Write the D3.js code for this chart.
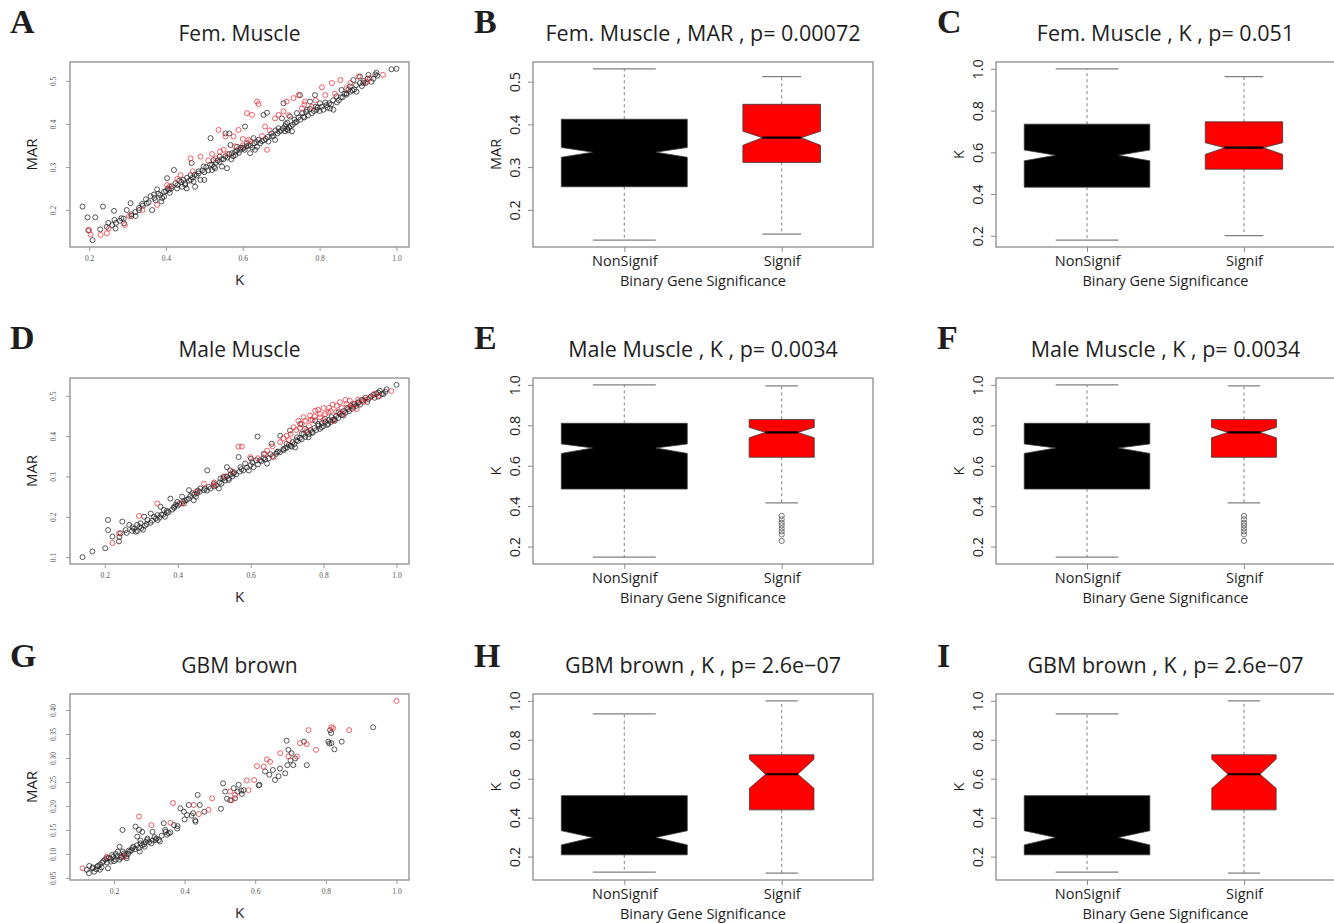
<!DOCTYPE html>
<html>
<head>
<meta charset="utf-8">
<script src="https://cdn.jsdelivr.net/npm/d3@7"></script>
<style>
  body { margin: 0; background: #fff; }
  svg { display: block; }
</style>
</head>
<body>
<div id="chart"></div>
<script>
// ---- scatter data: [K, MAR] ----
const femBlack = [[0.183,0.208],[0.196,0.183],[0.216,0.183],[0.198,0.153],[0.209,0.130],[0.236,0.208],[0.229,0.155],[0.246,0.161],[0.265,0.198],[0.266,0.177],[0.269,0.157],[0.284,0.181],[0.291,0.169],[0.298,0.200],[0.308,0.216],[0.310,0.186],[0.321,0.186],[0.330,0.200],[0.338,0.214],[0.348,0.225],[0.364,0.200],[0.369,0.236],[0.373,0.223],[0.377,0.248],[0.388,0.220],[0.395,0.231],[0.403,0.274],[0.408,0.247],[0.414,0.250],[0.421,0.293],[0.429,0.250],[0.442,0.254],[0.450,0.262],[0.454,0.250],[0.464,0.281],[0.467,0.309],[0.472,0.266],[0.476,0.254],[0.485,0.285],[0.490,0.270],[0.498,0.301],[0.500,0.270],[0.516,0.367],[0.520,0.293],[0.524,0.316],[0.528,0.297],[0.540,0.324],[0.546,0.301],[0.555,0.378],[0.559,0.297],[0.565,0.378],[0.568,0.351],[0.572,0.332],[0.581,0.328],[0.585,0.347],[0.594,0.340],[0.602,0.343],[0.606,0.394],[0.611,0.355],[0.619,0.332],[0.628,0.367],[0.632,0.340],[0.637,0.347],[0.641,0.363],[0.654,0.421],[0.663,0.426],[0.667,0.359],[0.676,0.371],[0.684,0.363],[0.693,0.390],[0.702,0.413],[0.706,0.448],[0.710,0.383],[0.716,0.403],[0.723,0.417],[0.728,0.383],[0.736,0.403],[0.741,0.425],[0.749,0.467],[0.758,0.417],[0.767,0.433],[0.775,0.452],[0.788,0.467],[0.792,0.433],[0.801,0.448],[0.810,0.433],[0.818,0.444],[0.827,0.436],[0.836,0.433],[0.844,0.464],[0.857,0.479],[0.870,0.471],[0.879,0.487],[0.888,0.502],[0.896,0.475],[0.905,0.510],[0.914,0.495],[0.927,0.514],[0.935,0.498],[0.948,0.519],[0.987,0.527],[1.000,0.528],
  [0.360,0.232],[0.380,0.238],[0.400,0.244],[0.410,0.240],[0.430,0.258],[0.440,0.265],[0.460,0.268],[0.470,0.276],[0.480,0.280],[0.500,0.288],[0.510,0.292],[0.520,0.305],[0.530,0.310],[0.540,0.312],[0.550,0.318],[0.560,0.322],[0.570,0.318],[0.580,0.335],[0.590,0.333],[0.600,0.345],[0.610,0.348],[0.620,0.350],[0.630,0.355],[0.650,0.360],[0.660,0.365],[0.680,0.372],[0.690,0.378],[0.700,0.385],[0.710,0.395],[0.715,0.388],[0.720,0.392],[0.730,0.398],[0.740,0.405],[0.750,0.410],[0.760,0.415],[0.770,0.420],[0.780,0.425],[0.790,0.440],[0.800,0.430],[0.820,0.438],[0.830,0.445],[0.850,0.455],[0.860,0.462],[0.870,0.468],[0.880,0.475],[0.890,0.480],[0.910,0.488],[0.920,0.495],[0.940,0.505],[0.950,0.512],[0.450,0.258],[0.390,0.228],[0.350,0.215],[0.320,0.195],[0.280,0.175],[0.260,0.165],[0.250,0.170],
  [0.270,0.170],[0.290,0.180],[0.310,0.190],[0.330,0.205],[0.340,0.210],[0.355,0.218],[0.370,0.228],[0.385,0.235],[0.395,0.242],[0.405,0.250],[0.415,0.255],[0.425,0.262],[0.435,0.268],[0.445,0.270],[0.455,0.275],[0.465,0.270],[0.475,0.282],[0.485,0.290],[0.495,0.292],[0.505,0.300],[0.515,0.305],[0.525,0.300],[0.535,0.315],[0.545,0.318],[0.555,0.325],[0.565,0.330],[0.575,0.325],[0.585,0.338],[0.595,0.345],[0.605,0.340],[0.615,0.350],[0.625,0.345],[0.635,0.358],[0.645,0.355],[0.655,0.362],[0.665,0.370],[0.675,0.378],[0.685,0.385],[0.695,0.382],[0.705,0.390],[0.712,0.400],[0.718,0.385],[0.725,0.395],[0.735,0.410],[0.745,0.415],[0.755,0.425],[0.765,0.428],[0.775,0.435],[0.785,0.430],[0.795,0.438],[0.805,0.440],[0.815,0.450],[0.825,0.448],[0.835,0.455],[0.845,0.450],[0.855,0.462],[0.865,0.470],[0.875,0.480],[0.885,0.478],[0.895,0.490],[0.905,0.495],[0.915,0.500],[0.925,0.505],[0.945,0.515]];
const femRed = [[0.200,0.153],[0.204,0.143],[0.230,0.142],[0.246,0.146],[0.251,0.157],[0.293,0.165],[0.304,0.186],[0.339,0.200],[0.377,0.212],[0.403,0.258],[0.438,0.281],[0.464,0.320],[0.490,0.324],[0.537,0.386],[0.541,0.336],[0.555,0.371],[0.576,0.371],[0.589,0.386],[0.615,0.363],[0.611,0.425],[0.624,0.421],[0.637,0.452],[0.641,0.446],[0.658,0.394],[0.684,0.413],[0.693,0.421],[0.714,0.452],[0.732,0.460],[0.745,0.467],[0.754,0.436],[0.762,0.452],[0.780,0.440],[0.806,0.485],[0.815,0.467],[0.832,0.495],[0.854,0.502],[0.870,0.483],[0.901,0.510],[0.922,0.498],[0.965,0.514],[0.931,0.506],[0.663,0.340],[0.706,0.429],[0.410,0.255],[0.530,0.320],[0.560,0.330],[0.600,0.350],[0.650,0.372],
  [0.430,0.272],[0.470,0.290],[0.510,0.315],[0.550,0.340],[0.580,0.348],[0.620,0.360],[0.670,0.385],[0.720,0.420],[0.760,0.445],[0.790,0.455],[0.840,0.470],[0.880,0.495],[0.520,0.330],[0.600,0.365]];

const maleBlack = [[0.139,0.100],[0.166,0.114],[0.201,0.122],[0.209,0.192],[0.209,0.167],[0.221,0.151],[0.239,0.139],[0.243,0.159],[0.248,0.188],[0.257,0.167],[0.267,0.180],[0.276,0.174],[0.285,0.163],[0.289,0.180],[0.298,0.184],[0.308,0.200],[0.317,0.192],[0.326,0.208],[0.335,0.200],[0.344,0.204],[0.353,0.225],[0.362,0.217],[0.371,0.210],[0.380,0.245],[0.390,0.225],[0.399,0.237],[0.412,0.250],[0.417,0.233],[0.431,0.266],[0.440,0.258],[0.444,0.241],[0.453,0.258],[0.462,0.270],[0.472,0.266],[0.481,0.315],[0.485,0.274],[0.499,0.282],[0.513,0.270],[0.517,0.295],[0.526,0.299],[0.535,0.323],[0.540,0.291],[0.544,0.315],[0.553,0.307],[0.567,0.348],[0.572,0.323],[0.585,0.332],[0.595,0.315],[0.601,0.344],[0.608,0.323],[0.619,0.399],[0.626,0.340],[0.636,0.356],[0.645,0.332],[0.658,0.381],[0.672,0.360],[0.681,0.401],[0.690,0.368],[0.699,0.381],[0.708,0.414],[0.713,0.374],[0.722,0.372],[0.727,0.397],[0.736,0.430],[0.740,0.406],[0.749,0.418],[0.759,0.397],[0.768,0.410],[0.777,0.438],[0.786,0.426],[0.795,0.422],[0.804,0.443],[0.813,0.430],[0.822,0.447],[0.831,0.438],[0.841,0.459],[0.854,0.451],[0.868,0.467],[0.882,0.473],[0.895,0.484],[0.909,0.488],[0.923,0.492],[0.936,0.502],[0.950,0.508],[0.964,0.504],[0.973,0.516],[1.000,0.527],
  [0.280,0.170],[0.290,0.165],[0.300,0.172],[0.310,0.178],[0.330,0.190],[0.340,0.196],[0.350,0.198],[0.360,0.205],[0.370,0.215],[0.390,0.222],[0.400,0.228],[0.420,0.240],[0.430,0.245],[0.450,0.250],[0.460,0.262],[0.480,0.265],[0.490,0.270],[0.500,0.275],[0.520,0.282],[0.530,0.290],[0.540,0.295],[0.550,0.300],[0.560,0.305],[0.570,0.312],[0.580,0.315],[0.590,0.322],[0.600,0.328],[0.620,0.330],[0.630,0.338],[0.640,0.342],[0.650,0.345],[0.660,0.350],[0.670,0.356],[0.680,0.360],[0.690,0.365],[0.700,0.372],[0.710,0.376],[0.720,0.380],[0.730,0.388],[0.740,0.392],[0.750,0.398],[0.760,0.405],[0.770,0.408],[0.780,0.415],[0.790,0.418],[0.800,0.425],[0.810,0.428],[0.820,0.435],[0.830,0.442],[0.840,0.445],[0.850,0.452],[0.860,0.458],[0.870,0.462],[0.880,0.468],[0.890,0.475],[0.900,0.478],[0.920,0.485],[0.940,0.495],[0.950,0.498],[0.960,0.505],[0.970,0.510],
  [0.240,0.150],[0.260,0.160],[0.275,0.165],[0.295,0.175],[0.305,0.168],[0.315,0.182],[0.325,0.185],[0.345,0.192],[0.355,0.205],[0.365,0.200],[0.375,0.212],[0.385,0.218],[0.395,0.230],[0.405,0.232],[0.415,0.238],[0.425,0.242],[0.435,0.252],[0.445,0.255],[0.455,0.265],[0.475,0.270],[0.505,0.278],[0.515,0.285],[0.525,0.295],[0.535,0.300],[0.545,0.305],[0.555,0.310],[0.575,0.318],[0.605,0.335],[0.615,0.340],[0.635,0.345],[0.655,0.355],[0.675,0.362],[0.695,0.370],[0.705,0.378],[0.715,0.385],[0.725,0.390],[0.735,0.395],[0.745,0.405],[0.755,0.410],[0.765,0.415],[0.775,0.420],[0.785,0.430],[0.795,0.432],[0.805,0.435],[0.815,0.440],[0.825,0.440],[0.835,0.450],[0.845,0.455],[0.855,0.462],[0.865,0.470],[0.875,0.475],[0.885,0.480],[0.895,0.482],[0.905,0.490],[0.915,0.495],[0.930,0.498],[0.945,0.505],[0.955,0.512]];
const maleRed = [[0.221,0.135],[0.239,0.159],[0.294,0.202],[0.344,0.233],[0.412,0.233],[0.472,0.282],[0.499,0.278],[0.567,0.374],[0.576,0.374],[0.599,0.348],[0.645,0.364],[0.663,0.348],[0.681,0.385],[0.699,0.401],[0.718,0.422],[0.731,0.438],[0.745,0.447],[0.754,0.414],[0.763,0.451],[0.777,0.463],[0.790,0.447],[0.800,0.470],[0.813,0.459],[0.827,0.438],[0.836,0.475],[0.845,0.484],[0.854,0.455],[0.863,0.479],[0.872,0.488],[0.891,0.467],[0.909,0.484],[0.927,0.496],[0.954,0.500],[0.986,0.512],[0.740,0.430],[0.770,0.440],[0.790,0.455],[0.820,0.462],[0.760,0.425],[0.710,0.405],[0.880,0.480],[0.800,0.440],[0.530,0.300],[0.620,0.345],
  [0.690,0.395],[0.705,0.390],[0.725,0.415],[0.735,0.420],[0.750,0.438],[0.765,0.440],[0.775,0.448],[0.785,0.465],[0.805,0.455],[0.815,0.470],[0.825,0.478],[0.835,0.460],[0.850,0.470],[0.860,0.490],[0.875,0.470],[0.895,0.490],[0.915,0.490],[0.940,0.505],[0.660,0.375],[0.640,0.355],[0.550,0.312],[0.500,0.285],[0.450,0.262]];

const gbmBlack = [[0.123,0.067],[0.129,0.060],[0.139,0.070],[0.144,0.063],[0.153,0.074],[0.160,0.067],[0.167,0.082],[0.179,0.091],[0.183,0.070],[0.191,0.084],[0.198,0.094],[0.205,0.088],[0.211,0.105],[0.216,0.115],[0.220,0.094],[0.224,0.150],[0.228,0.101],[0.236,0.091],[0.242,0.107],[0.252,0.112],[0.261,0.157],[0.266,0.136],[0.271,0.150],[0.273,0.105],[0.275,0.122],[0.280,0.146],[0.287,0.115],[0.294,0.129],[0.306,0.122],[0.309,0.146],[0.318,0.129],[0.327,0.129],[0.341,0.164],[0.346,0.146],[0.355,0.143],[0.379,0.153],[0.388,0.195],[0.398,0.188],[0.407,0.181],[0.412,0.202],[0.424,0.185],[0.431,0.167],[0.437,0.223],[0.443,0.202],[0.456,0.188],[0.503,0.194],[0.509,0.247],[0.515,0.230],[0.529,0.212],[0.539,0.237],[0.543,0.216],[0.553,0.244],[0.562,0.225],[0.567,0.233],[0.612,0.244],[0.628,0.272],[0.650,0.275],[0.656,0.254],[0.666,0.262],[0.685,0.268],[0.689,0.336],[0.691,0.285],[0.694,0.317],[0.703,0.310],[0.708,0.285],[0.713,0.299],[0.738,0.334],[0.746,0.285],[0.807,0.334],[0.812,0.358],[0.816,0.331],[0.824,0.318],[0.845,0.334],[0.934,0.364],
  [0.130,0.075],[0.150,0.068],[0.160,0.078],[0.170,0.085],[0.180,0.082],[0.190,0.090],[0.200,0.085],[0.210,0.095],[0.220,0.092],[0.230,0.098],[0.240,0.100],[0.250,0.108],[0.260,0.110],[0.270,0.112],[0.280,0.118],[0.290,0.125],[0.300,0.125],[0.310,0.128],[0.320,0.132],[0.330,0.126],[0.350,0.140],[0.360,0.145],[0.380,0.158],[0.400,0.172],[0.420,0.180],[0.430,0.170],[0.520,0.215],[0.550,0.230],[0.560,0.232],[0.610,0.243],[0.640,0.265],[0.670,0.278],[0.700,0.295],[0.810,0.330],[0.815,0.352],
  [0.140,0.072],[0.155,0.075],[0.165,0.072],[0.175,0.088],[0.185,0.092],[0.195,0.098],[0.205,0.100],[0.215,0.088],[0.225,0.105],[0.235,0.095],[0.245,0.105],[0.255,0.115],[0.265,0.118],[0.275,0.128],[0.285,0.120],[0.295,0.132],[0.315,0.135],[0.335,0.138],[0.345,0.150],[0.370,0.160]];
const gbmRed = [[0.111,0.070],[0.179,0.094],[0.228,0.094],[0.271,0.178],[0.306,0.160],[0.360,0.165],[0.367,0.206],[0.426,0.202],[0.440,0.183],[0.468,0.192],[0.478,0.216],[0.529,0.230],[0.534,0.212],[0.576,0.253],[0.581,0.233],[0.597,0.254],[0.605,0.283],[0.624,0.282],[0.633,0.297],[0.642,0.292],[0.671,0.310],[0.694,0.303],[0.718,0.303],[0.727,0.331],[0.751,0.358],[0.746,0.329],[0.772,0.317],[0.816,0.364],[0.821,0.362],[0.866,0.358],[1.000,0.419],[0.543,0.223]];

const scatterTitles = ["Fem. Muscle", "Male Muscle", "GBM brown"];
const kTicks = [0.2, 0.4, 0.6, 0.8, 1.0];
const kTickLabels = ["0.2", "0.4", "0.6", "0.8", "1.0"];
const marTicksFem = [0.2, 0.3, 0.4, 0.5];
const marLabelsFem = ["0.2", "0.3", "0.4", "0.5"];
const marTicksMale = [0.1, 0.2, 0.3, 0.4, 0.5];
const marLabelsMale = ["0.1", "0.2", "0.3", "0.4", "0.5"];
const marTicksGbm = [0.05, 0.10, 0.15, 0.20, 0.25, 0.30, 0.35, 0.40];
const marLabelsGbm = ["0.05", "0.10", "0.15", "0.20", "0.25", "0.30", "0.35", "0.40"];

// ---- boxplot data: [whiskerLow, Q1, notchLow, median, notchHigh, Q3, whiskerHigh] ----
const groups = ["NonSignif", "Signif"];
const statsFemMAR = [[0.129,0.254,0.323,0.335,0.346,0.412,0.530],[0.143,0.311,0.351,0.369,0.384,0.447,0.512]];
const statsFemK   = [[0.179,0.433,0.559,0.586,0.611,0.735,1.000],[0.201,0.519,0.590,0.622,0.646,0.746,0.963]];
const statsMaleK  = [[0.148,0.485,0.661,0.688,0.708,0.810,1.000],[0.416,0.642,0.738,0.765,0.790,0.829,0.995]];
const statsGbmK   = [[0.120,0.209,0.260,0.298,0.333,0.513,0.933],[0.115,0.440,0.551,0.623,0.700,0.723,1.000]];
const outliersMaleK = [[], [0.352,0.335,0.318,0.305,0.290,0.275,0.260,0.228]];
const sizesFem  = [300, 114];
const sizesMale = [400, 107];
const sizesGbm  = [160, 42];
const boxTicksMAR = [0.2, 0.3, 0.4, 0.5];
const boxLabelsMAR = ["0.2", "0.3", "0.4", "0.5"];
const boxTicksK = [0.2, 0.4, 0.6, 0.8, 1.0];
const boxLabelsK = ["0.2", "0.4", "0.6", "0.8", "1.0"];

const W = 1334, H = 923;
const sans = "'Open Sans', 'Noto Sans', sans-serif";
const ink = "#1e1e1e";

const svg = d3.select("#chart").append("svg")
  .attr("width", W).attr("height", H)
  .style("font-family", sans);

// R style 4% padding on the data range
function rPad(ext) {
  const d = (ext[1] - ext[0]) * 0.04;
  return [ext[0] - d, ext[1] + d];
}

function panelLetter(letter, x, y) {
  svg.append("text").attr("x", x).attr("y", y)
    .style("font-family", "'Liberation Serif', 'DejaVu Serif', serif")
    .style("font-weight", "bold").style("font-size", "34px")
    .attr("fill", ink).text(letter);
}

function frame(x0, x1, y0, y1) {
  svg.append("rect").attr("x", x0).attr("y", y0)
    .attr("width", x1 - x0).attr("height", y1 - y0)
    .attr("fill", "none").attr("stroke", "#8c8c8c").attr("stroke-width", 1.3);
}

function drawScatter(opt) {
  const [x0, x1, y0, y1] = opt.box;
  const all = opt.black.concat(opt.red);
  const x = d3.scaleLinear().domain(rPad(d3.extent(all, d => d[0]))).range([x0, x1]);
  const y = d3.scaleLinear().domain(rPad(d3.extent(all, d => d[1]))).range([y1, y0]);

  const g = svg.append("g");
  g.selectAll(".pb").data(opt.black).enter().append("circle")
    .attr("cx", d => x(d[0])).attr("cy", d => y(d[1])).attr("r", 2.5)
    .attr("fill", "none").attr("stroke", "#222").attr("stroke-opacity", 0.75).attr("stroke-width", 1);
  g.selectAll(".pr").data(opt.red).enter().append("circle")
    .attr("cx", d => x(d[0])).attr("cy", d => y(d[1])).attr("r", 2.5)
    .attr("fill", "none").attr("stroke", "#e8202c").attr("stroke-opacity", 0.7).attr("stroke-width", 1);

  frame(x0, x1, y0, y1);

  const xa = svg.append("g").attr("transform", `translate(0,${y1})`)
    .call(d3.axisBottom(x).tickValues(kTicks).tickFormat((d, i) => kTickLabels[i]).tickSize(4).tickPadding(5));
  xa.select(".domain").remove();
  xa.selectAll("line").attr("stroke", "#999");
  xa.selectAll("text").style("font-family", "'Liberation Serif', serif").style("font-size", "7.5px").attr("fill", "#555");

  const ya = svg.append("g").attr("transform", `translate(${x0},0)`)
    .call(d3.axisLeft(y).tickValues(opt.yTicks).tickFormat((d, i) => opt.yLabels[i]).tickSize(4));
  ya.select(".domain").remove();
  ya.selectAll("line").attr("stroke", "#999");
  ya.selectAll("text").style("font-family", "'Liberation Serif', serif").style("font-size", "7.5px").attr("fill", "#555")
    .attr("transform", "rotate(-90)").attr("x", 0).attr("y", -14).attr("dy", 0).attr("text-anchor", "middle");

  const cx = (x0 + x1) / 2;
  svg.append("text").attr("x", cx).attr("y", y0 - 21).attr("text-anchor", "middle")
    .style("font-size", "21px").attr("fill", ink).text(opt.title);
  svg.append("text").attr("x", cx).attr("y", y1 + 38).attr("text-anchor", "middle")
    .style("font-size", "15px").attr("fill", ink).text("K");
  svg.append("text").attr("transform", `translate(${x0 - 33},${(y0 + y1) / 2}) rotate(-90)`)
    .attr("text-anchor", "middle").style("font-size", "15px").attr("fill", ink).text("MAR");
}

function drawBox(opt) {
  const [x0, x1, y0, y1] = opt.box;
  const x = d3.scaleLinear().domain([0.42, 2.58]).range([x0, x1]);
  const vals = opt.stats.flat().concat(opt.outliers ? opt.outliers.flat() : []);
  const y = d3.scaleLinear().domain(rPad(d3.extent(vals))).range([y1, y0]);
  const unit = x(1) - x(0);
  const nMax = d3.max(opt.sizes);
  const fills = ["#000000", "#ff0000"];

  opt.stats.forEach((s, i) => {
    const c = x(i + 1);
    const wid = 0.8 * Math.sqrt(opt.sizes[i] / nMax) * unit;
    const [wLo, q1, nLo, med, nHi, q3, wHi] = s;
    const g = svg.append("g");
    // whiskers
    g.append("line").attr("x1", c).attr("x2", c).attr("y1", y(q3)).attr("y2", y(wHi))
      .attr("stroke", "#808080").attr("stroke-dasharray", "3,3");
    g.append("line").attr("x1", c).attr("x2", c).attr("y1", y(q1)).attr("y2", y(wLo))
      .attr("stroke", "#808080").attr("stroke-dasharray", "3,3");
    g.append("line").attr("x1", c - wid / 4).attr("x2", c + wid / 4).attr("y1", y(wHi)).attr("y2", y(wHi))
      .attr("stroke", "#808080").attr("stroke-width", 1.2);
    g.append("line").attr("x1", c - wid / 4).attr("x2", c + wid / 4).attr("y1", y(wLo)).attr("y2", y(wLo))
      .attr("stroke", "#808080").attr("stroke-width", 1.2);
    // notched box, R bxp polygon
    const fr = 0.5;
    const xx = [-0.5, 0.5, 0.5, fr * 0.5, 0.5, 0.5, -0.5, -0.5, -fr * 0.5, -0.5].map(v => c + wid * v);
    const yy = [q1, q1, nLo, med, nHi, q3, q3, nHi, med, nLo].map(v => y(v));
    g.append("polygon").attr("points", xx.map((v, k) => v + "," + yy[k]).join(" "))
      .attr("fill", fills[i]).attr("stroke", "#3a3a3a").attr("stroke-width", 0.8);
    g.append("line").attr("x1", c - wid * fr / 2).attr("x2", c + wid * fr / 2)
      .attr("y1", y(med)).attr("y2", y(med)).attr("stroke", "#000").attr("stroke-width", 2.2);
    if (opt.outliers) {
      g.selectAll(".out").data(opt.outliers[i]).enter().append("circle")
        .attr("cx", c).attr("cy", d => y(d)).attr("r", 2.6)
        .attr("fill", "none").attr("stroke", "#555").attr("stroke-width", 0.8);
    }
  });

  frame(x0, x1, y0, y1);

  const xa = svg.append("g").attr("transform", `translate(0,${y1})`)
    .call(d3.axisBottom(x).tickValues([1, 2]).tickFormat((d, i) => groups[i]).tickSize(5).tickPadding(4));
  xa.select(".domain").remove();
  xa.selectAll("line").attr("stroke", "#8c8c8c");
  xa.selectAll("text").style("font-family", sans).style("font-size", "14.5px").attr("fill", ink);

  const ya = svg.append("g").attr("transform", `translate(${x0},0)`)
    .call(d3.axisLeft(y).tickValues(opt.yTicks).tickFormat((d, i) => opt.yLabels[i]).tickSize(5));
  ya.select(".domain").remove();
  ya.selectAll("line").attr("stroke", "#8c8c8c");
  ya.selectAll("text").style("font-family", sans).style("font-size", "14.5px").attr("fill", ink)
    .attr("transform", "rotate(-90)").attr("x", 0).attr("y", -13).attr("dy", 0).attr("text-anchor", "middle");

  const cx = (x0 + x1) / 2;
  svg.append("text").attr("x", cx).attr("y", y0 - 21).attr("text-anchor", "middle")
    .style("font-size", "21.5px").attr("fill", ink).text(opt.title);
  svg.append("text").attr("x", cx).attr("y", y1 + 39).attr("text-anchor", "middle")
    .style("font-size", "14.5px").attr("fill", ink).text("Binary Gene Significance");
  svg.append("text").attr("transform", `translate(${x0 - 32},${(y0 + y1) / 2}) rotate(-90)`)
    .attr("text-anchor", "middle").style("font-size", "14.5px").attr("fill", ink).text(opt.ylab);
}

// layout
const col1 = [70, 409], col2 = [533, 873], col3 = [996, 1335];
const rows = [[62, 247], [378, 564], [694, 880]];

drawScatter({ box: [...col1, ...rows[0]], black: femBlack, red: femRed, title: scatterTitles[0], yTicks: marTicksFem, yLabels: marLabelsFem });
drawScatter({ box: [...col1, ...rows[1]], black: maleBlack, red: maleRed, title: scatterTitles[1], yTicks: marTicksMale, yLabels: marLabelsMale });
drawScatter({ box: [...col1, ...rows[2]], black: gbmBlack, red: gbmRed, title: scatterTitles[2], yTicks: marTicksGbm, yLabels: marLabelsGbm });

drawBox({ box: [...col2, ...rows[0]], stats: statsFemMAR, sizes: sizesFem, title: "Fem. Muscle , MAR , p= 0.00072", ylab: "MAR", yTicks: boxTicksMAR, yLabels: boxLabelsMAR });
drawBox({ box: [...col3, ...rows[0]], stats: statsFemK, sizes: sizesFem, title: "Fem. Muscle , K , p= 0.051", ylab: "K", yTicks: boxTicksK, yLabels: boxLabelsK });
drawBox({ box: [...col2, ...rows[1]], stats: statsMaleK, outliers: outliersMaleK, sizes: sizesMale, title: "Male Muscle , K , p= 0.0034", ylab: "K", yTicks: boxTicksK, yLabels: boxLabelsK });
drawBox({ box: [...col3, ...rows[1]], stats: statsMaleK, outliers: outliersMaleK, sizes: sizesMale, title: "Male Muscle , K , p= 0.0034", ylab: "K", yTicks: boxTicksK, yLabels: boxLabelsK });
drawBox({ box: [...col2, ...rows[2]], stats: statsGbmK, sizes: sizesGbm, title: "GBM brown , K , p= 2.6e\u221207", ylab: "K", yTicks: boxTicksK, yLabels: boxLabelsK });
drawBox({ box: [...col3, ...rows[2]], stats: statsGbmK, sizes: sizesGbm, title: "GBM brown , K , p= 2.6e\u221207", ylab: "K", yTicks: boxTicksK, yLabels: boxLabelsK });

panelLetter("A", 10, 33);
panelLetter("B", 474, 33);
panelLetter("C", 937, 33);
panelLetter("D", 10, 349);
panelLetter("E", 474, 349);
panelLetter("F", 937, 349);
panelLetter("G", 10, 667);
panelLetter("H", 474, 667);
panelLetter("I", 937, 667);
</script>
</body>
</html>
